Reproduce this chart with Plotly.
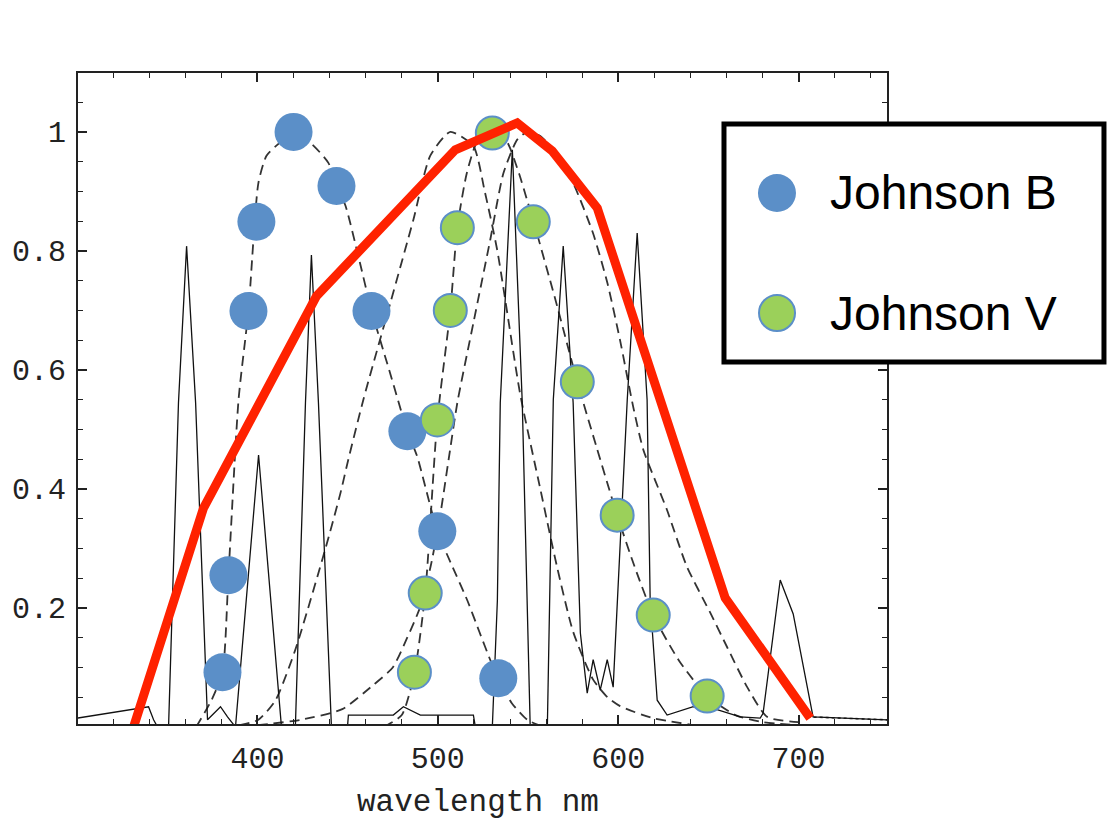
import plotly.graph_objects as go

# ---------------- data ----------------
# Johnson B filter points
b_wl = [380.6, 383.9, 395.0, 399.4, 420.0, 443.8, 463.2, 483.1, 499.7, 533.5]
b_resp = [0.092, 0.255, 0.699, 0.849, 1.0, 0.909, 0.699, 0.497, 0.329, 0.082]

# Johnson V filter points
v_wl = [487.0, 493.0, 499.7, 506.9, 510.8, 530.2, 552.9, 577.3, 599.4, 619.4, 649.3]
v_resp = [0.092, 0.225, 0.516, 0.70, 0.839, 0.998, 0.849, 0.58, 0.356, 0.188, 0.052]

# red broad response curve
red_wl = [331.3, 370.1, 432.7, 509.7, 544.0, 563.4, 588.4, 659.3, 706.4]
red_resp = [0.0, 0.368, 0.724, 0.970, 1.015, 0.968, 0.872, 0.217, 0.015]

# black emission spectrum
spec_wl = [300.3, 329.6, 339.6, 342.4, 344.6, 350.7, 356.2, 360.7, 365.7, 372.3,
           379.5, 383.4, 387.8, 400.6, 413.3, 421.0, 426.6, 429.9, 433.8, 441.0,
           449.9, 450.4, 475.3, 480.9, 490.3, 519.7, 520.8, 530.2, 533.0, 534.6,
           541.3, 546.8, 551.2, 560.7, 564.0, 569.5, 575.0, 579.0, 582.8, 586.1,
           590.0, 593.9, 597.2, 605.0, 610.5, 616.0, 617.7, 621.6, 627.1, 641.6,
           654.8, 667.6, 678.7, 680.3, 689.8, 697.0, 708.0, 749.0]
spec_val = [0.015, 0.029, 0.034, 0.012, 0.0, 0.0, 0.545, 0.808, 0.545, 0.012,
            0.034, 0.017, 0.0, 0.457, 0.0, 0.0, 0.545, 0.793, 0.545, 0.0,
            0.0, 0.02, 0.02, 0.034, 0.02, 0.02, 0.0, 0.0, 0.213, 0.545,
            0.97, 0.545, 0.0, 0.0, 0.55, 0.808, 0.545, 0.158, 0.057, 0.113,
            0.062, 0.113, 0.067, 0.55, 0.83, 0.55, 0.213, 0.045, 0.02, 0.034,
            0.029, 0.017, 0.015, 0.023, 0.247, 0.19, 0.017, 0.012]

# dashed sensitivity curves
s_wl = [366, 374.5, 380.6, 383.9, 389.5, 395, 400.5, 405, 411.6, 420, 430, 439.3,
        443.8, 448.8, 456, 463.2, 473, 483.1, 488.6, 499.7, 508, 516.3, 523, 529,
        533.5, 541, 549.6, 556]
s_val = [0.0, 0.045, 0.092, 0.255, 0.55, 0.70, 0.914, 0.96, 0.98, 1.0, 0.98, 0.948,
         0.909, 0.876, 0.79, 0.70, 0.60, 0.497, 0.454, 0.329, 0.27, 0.213, 0.16, 0.113,
         0.082, 0.04, 0.012, 0.003]

rod_wl = [390, 400.5, 410, 421, 437.7, 446, 450.4, 458.7, 473.7, 486.4, 495.8, 506.9,
          519.7, 526, 533, 545.6, 556.8, 566, 575, 586, 594, 601, 619, 640]
rod_val = [0.003, 0.012, 0.045, 0.13, 0.30, 0.393, 0.45, 0.55, 0.713, 0.852, 0.96, 1.0,
           0.976, 0.90, 0.80, 0.56, 0.40, 0.27, 0.16, 0.08, 0.05, 0.035, 0.015, 0.004]

m_wl = [470, 480, 487, 493, 499.7, 506.9, 510.8, 516, 522, 530, 538, 545, 550, 553,
        565, 577.3, 588, 599.4, 609, 619.4, 634, 649.3, 665, 680, 700]
m_val = [0.0, 0.02, 0.09, 0.225, 0.516, 0.70, 0.84, 0.93, 0.985, 1.0, 0.985, 0.93, 0.88,
         0.85, 0.72, 0.58, 0.47, 0.356, 0.27, 0.188, 0.11, 0.052, 0.02, 0.008, 0.003]

l_wl = [400, 424, 447, 464, 475, 483, 490, 496, 501, 506, 510.8, 519.7, 529, 536.3,
        544, 549.6, 556.8, 564, 575, 586, 594, 601, 608.3, 613.9, 627, 638, 651,
        660.4, 671.5, 682.5, 700]
l_val = [0.003, 0.012, 0.03, 0.07, 0.10, 0.15, 0.20, 0.27, 0.35, 0.45, 0.545, 0.679,
         0.818, 0.93, 0.987, 1.0, 0.993, 0.97, 0.914, 0.83, 0.746, 0.65, 0.538, 0.466,
         0.365, 0.27, 0.192, 0.134, 0.067, 0.017, 0.008]

tail_wl = [705, 749]
tail_val = [0.017, 0.012]

x_ticks = [400, 500, 600, 700]
y_ticks = [0.2, 0.4, 0.6, 0.8, 1.0]
y_ticktext = ["0.2", "0.4", "0.6", "0.8", "1"]
legend_names = ["Johnson B", "Johnson V"]

# ---------------- figure ----------------
BLUE = "#5b8fc8"
GREEN = "#9bd05a"
RED = "#ff2200"
DASH = "10px,6px"

fig = go.Figure()

for wl, val in [(s_wl, s_val), (rod_wl, rod_val), (m_wl, m_val), (l_wl, l_val)]:
    fig.add_trace(go.Scatter(x=wl, y=val, mode="lines", showlegend=False,
                             line=dict(color="#333333", width=1.8, dash=DASH,
                                       shape="spline", smoothing=0.6),
                             hoverinfo="skip"))
fig.add_trace(go.Scatter(x=tail_wl, y=tail_val, mode="lines", showlegend=False,
                         line=dict(color="#333333", width=1.6, dash="dot")))

fig.add_trace(go.Scatter(x=spec_wl, y=spec_val, mode="lines", showlegend=False,
                         line=dict(color="#111111", width=1.3)))

fig.add_trace(go.Scatter(x=b_wl, y=b_resp, mode="markers", name=legend_names[0],
                         showlegend=False,
                         marker=dict(size=38, color=BLUE, line=dict(width=0))))
fig.add_trace(go.Scatter(x=v_wl, y=v_resp, mode="markers", name=legend_names[1],
                         showlegend=False,
                         marker=dict(size=33, color=GREEN, line=dict(width=2, color=BLUE))))

fig.add_trace(go.Scatter(x=red_wl, y=red_resp, mode="lines", showlegend=False,
                         line=dict(color=RED, width=9)))

tickfont = dict(family="Liberation Mono, Courier New, monospace", size=30, color="#222")

fig.update_xaxes(range=[300.5, 749], tickmode="array", tickvals=x_ticks,
                 ticks="inside", ticklen=9, tickwidth=1.5, tickcolor="#222",
                 showline=True, linecolor="#222", linewidth=2, mirror="allticks",
                 showgrid=False, zeroline=False, tickfont=tickfont,
                 ticklabelstandoff=6,
                 minor=dict(tickmode="linear", tick0=0, dtick=20, ticks="inside",
                            ticklen=5, tickwidth=1.2, tickcolor="#222"))
fig.update_yaxes(range=[0.005, 1.099], tickmode="array", tickvals=y_ticks,
                 ticktext=y_ticktext,
                 ticks="inside", ticklen=9, tickwidth=1.5, tickcolor="#222",
                 showline=True, linecolor="#222", linewidth=2, mirror="allticks",
                 showgrid=False, zeroline=False, tickfont=tickfont,
                 ticklabelstandoff=4,
                 minor=dict(tickmode="linear", tick0=0, dtick=0.05, ticks="inside",
                            ticklen=5, tickwidth=1.2, tickcolor="#222"))

# legend box (drawn in paper coordinates)
shapes = [
    dict(type="rect", xref="paper", yref="paper", x0=0.7985, x1=1.2682,
         y0=0.5561, y1=0.9217, line=dict(color="black", width=5),
         fillcolor="white", layer="above"),
    dict(type="circle", xref="paper", yref="paper", x0=0.8405, x1=0.8875,
         y0=0.7865, y1=0.8449, line=dict(width=0), fillcolor=BLUE, layer="above"),
    dict(type="circle", xref="paper", yref="paper", x0=0.8418, x1=0.8863,
         y0=0.6037, y1=0.6590, line=dict(width=2, color=BLUE), fillcolor=GREEN,
         layer="above"),
]
annotations = [
    dict(text=legend_names[0], xref="paper", yref="paper", x=0.927, y=0.8157,
         xanchor="left", yanchor="middle", showarrow=False,
         font=dict(family="Liberation Sans, Arial, sans-serif", size=48, color="black")),
    dict(text=legend_names[1], xref="paper", yref="paper", x=0.927, y=0.6313,
         xanchor="left", yanchor="middle", showarrow=False,
         font=dict(family="Liberation Sans, Arial, sans-serif", size=48, color="black")),
    dict(text="wavelength nm", xref="paper", yref="paper", x=0.494, y=-0.121,
         xanchor="center", yanchor="middle", showarrow=False,
         font=dict(family="Liberation Mono, Courier New, monospace", size=31, color="#222")),
]

fig.update_layout(width=1108, height=819, autosize=False,
                  margin=dict(l=78, r=221, t=73, b=95),
                  paper_bgcolor="white", plot_bgcolor="white",
                  shapes=shapes, annotations=annotations, showlegend=False)

fig.write_html("out.html", config={"displayModeBar": False},
               post_script="document.body.style.margin='0';document.body.style.overflow='hidden';")
